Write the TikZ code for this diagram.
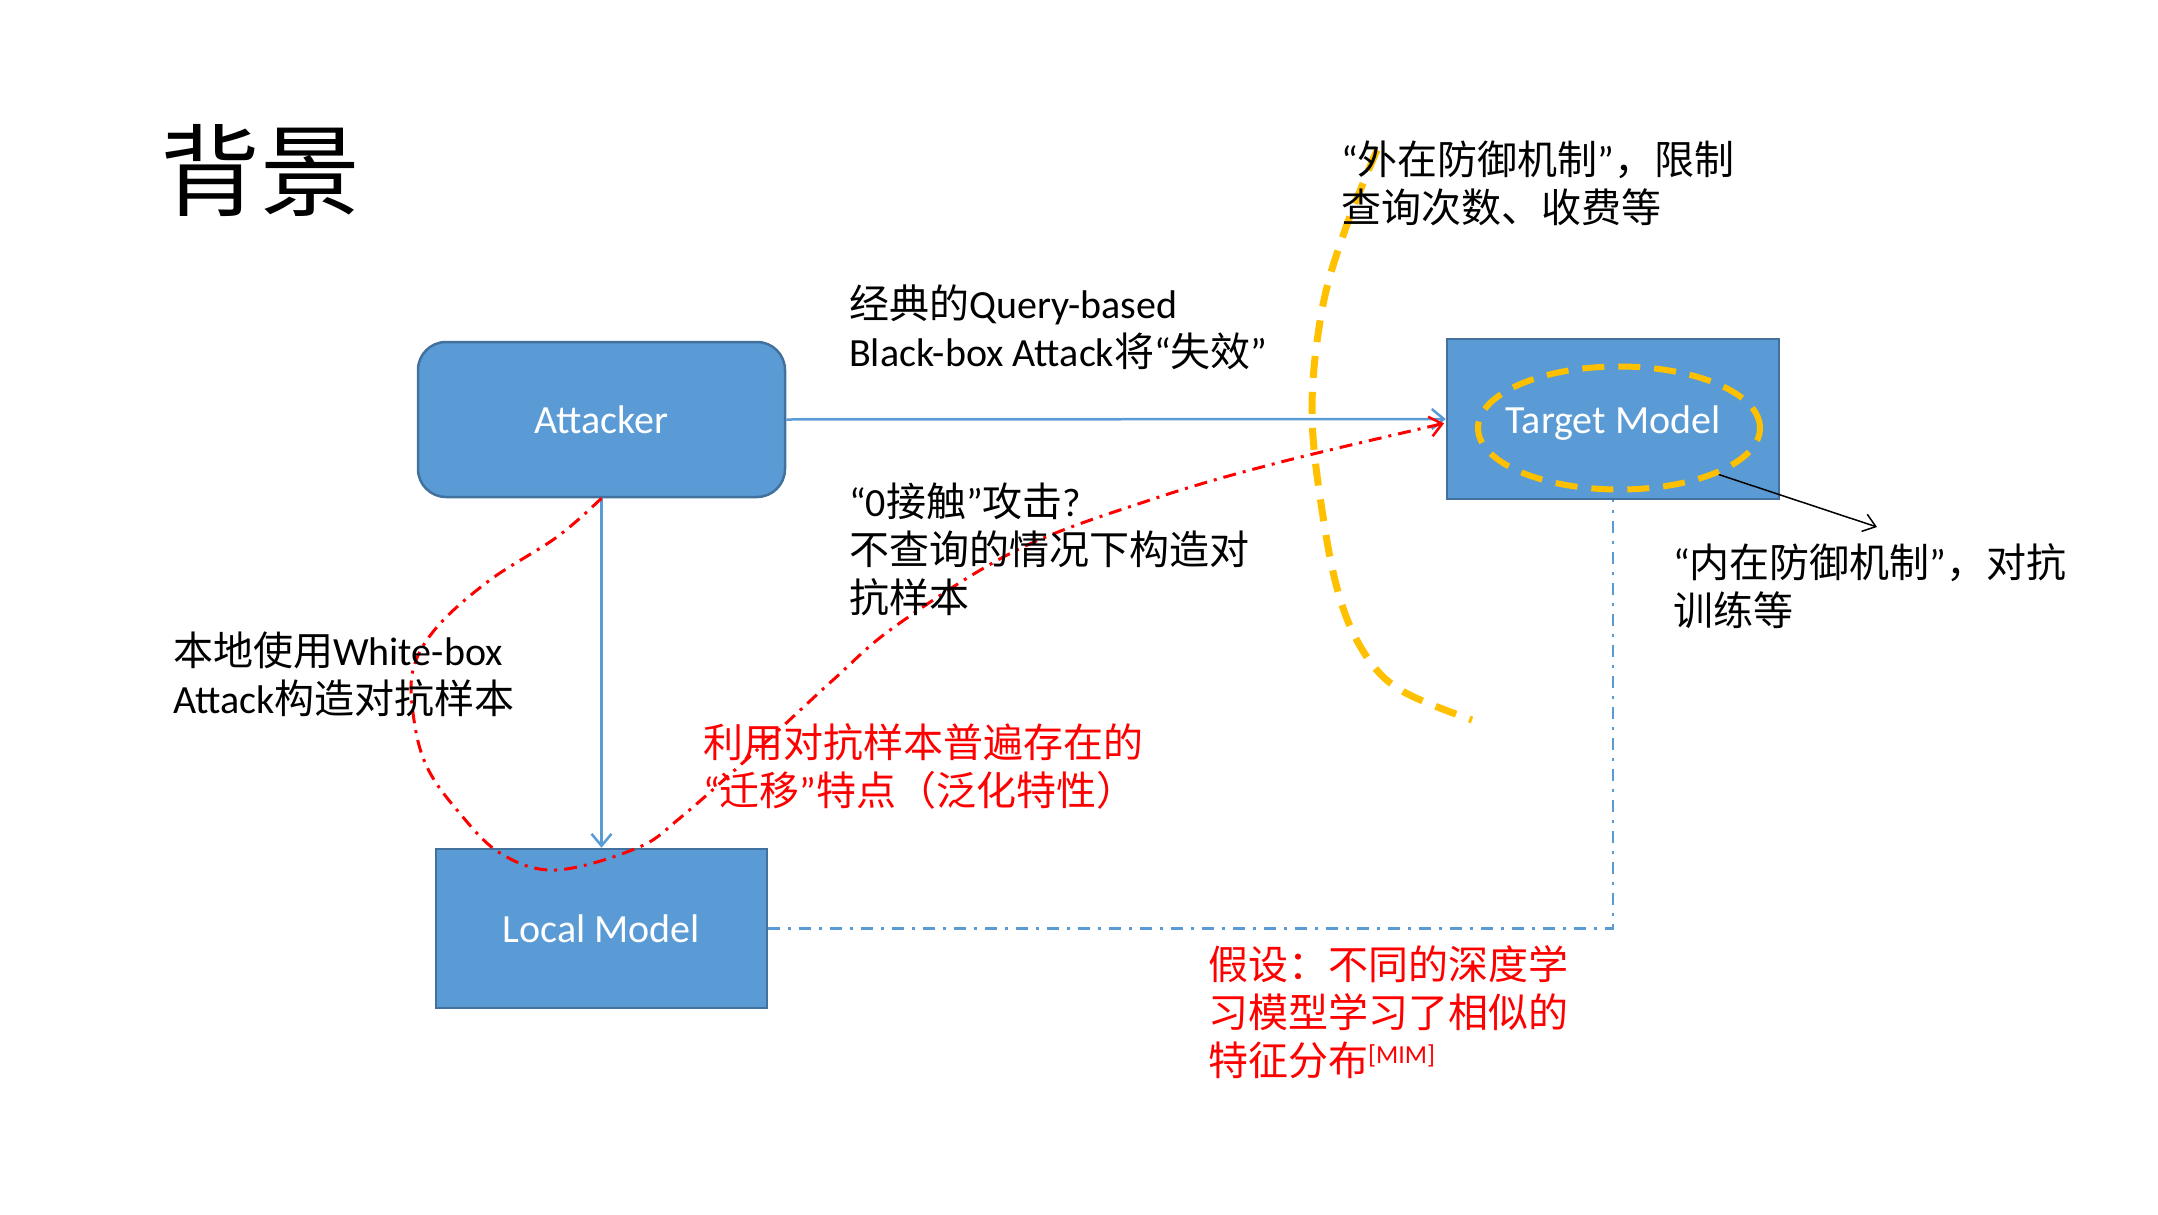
\documentclass[tikz,border=0pt]{standalone}
\usepackage{fontspec}
\setmainfont{Carlito}
\newfontfamily\zh{Noto Sans CJK SC}
\usetikzlibrary{arrows.meta,shapes.geometric}
\definecolor{boxfill}{HTML}{5B9BD5}
\definecolor{boxline}{HTML}{41719C}
\definecolor{gold}{HTML}{FFC000}
\definecolor{hred}{HTML}{FF0000}
\begin{document}
\begin{tikzpicture}[x=1pt,y=-1pt,
  box/.style={draw=boxline, fill=boxfill, line width=2.5pt, text=white, inner sep=0pt,
    text height=28pt, text depth=0pt, font=\fontsize{40}{48}\selectfont},
  txt/.style={anchor=west, align=left, inner sep=0pt, font=\fontsize{40}{48}\selectfont},
  blueline/.style={draw=boxfill, line width=2.5pt},
  barb/.style={-{Straight Barb[length=12pt,width=20pt,line width=2.5pt]}},
  reddash/.style={draw=hred, line width=3pt, dash pattern=on 13pt off 7pt on 3pt off 7pt},
  bluedash/.style={draw=boxfill, line width=2.5pt, dash pattern=on 12pt off 8pt on 3pt off 8pt},
  golddash/.style={draw=gold, line width=7pt, dash pattern=on 22pt off 14pt}
]
\useasboundingbox (0,0) rectangle (2158,1215);

% title
\node[anchor=west, inner sep=0pt, font=\zh\fontsize{100}{100}\selectfont] (title) at (160,170) {背景};

% boxes
\node[box, rounded corners=28pt, minimum width=367pt, minimum height=155pt] (attacker) at (601.5,419.5) {Attacker};
\node[box, minimum width=332pt, minimum height=160pt] (target) at (1613,419) {Target Model};
\node[box, minimum width=331pt, minimum height=159pt] (local) at (601.5,928.5) {Local Model};

% inner ring
\node[golddash, line width=6pt, ellipse, minimum width=282pt, minimum height=123pt, inner sep=0pt] (ring) at (1619,428) {};

% connectors
\draw[blueline, barb, color=boxfill] (attacker.east) -- (target.west);
\draw[blueline, barb, color=boxfill] (attacker.south) -- (local.north);
\draw[bluedash] (local.east) -| (target.south);

% red transfer curve
\draw[reddash, -{Straight Barb[length=12pt,width=20pt,line width=2.5pt,sep]}, color=hred]
  plot[smooth, tension=0.6] coordinates {(attacker.south) (557,537) (490,580) (437,627) (413,670) (414,720) (427,767) (457,810) (500,853) (556,870) (637,848) (680,818) (757,750) (833,680) (897,625) (1017,550) (1150,500) (1277,463) ([yshift=-4pt]target.west)};

% outer defence arc
\draw[golddash] plot[smooth, tension=0.6] coordinates {(1377,150) (1345,230) (1322,310) (1312,413) (1324,523) (1342,605) (1369,660) (1404,692) (1472,720)};

% pointer to inner mechanism
\coordinate (ptr) at (1877,527);
\draw[black, line width=1.5pt, -{Straight Barb[length=12pt,width=18pt,line width=1.5pt]}] (ring.-25) -- (ptr);

% texts
\node[txt] (qb) at (849,327) {{\zh 经典的}Query-based\\Black-box Attack{\zh 将}“{\zh 失效}”};
\node[txt] (ext) at (1341,183) {“{\zh 外在防御机制}”{\zh ，限制}\\{\zh 查询次数、收费等}};
\node[txt] (zero) at (849,549) {“0{\zh 接触}”{\zh 攻击}?\\{\zh 不查询的情况下构造对}\\{\zh 抗样本}};
\node[txt] (wb) at (173,674) {{\zh 本地使用}White-box\\Attack{\zh 构造对抗样本}};
\node[txt] (int) at (1673,586) {“{\zh 内在防御机制}”{\zh ，对抗}\\{\zh 训练等}};
\node[txt, text=hred] (transfer) at (703,766) {{\zh 利用对抗样本普遍存在的}\\“{\zh 迁移}”{\zh 特点（泛化特性）}};
\node[txt, text=hred] (assume) at (1208,1012) {{\zh 假设：不同的深度学}\\{\zh 习模型学习了相似的}\\{\zh 特征分布}\raisebox{12pt}{\fontsize{26}{26}\selectfont [MIM]}};
\end{tikzpicture}
\end{document}
